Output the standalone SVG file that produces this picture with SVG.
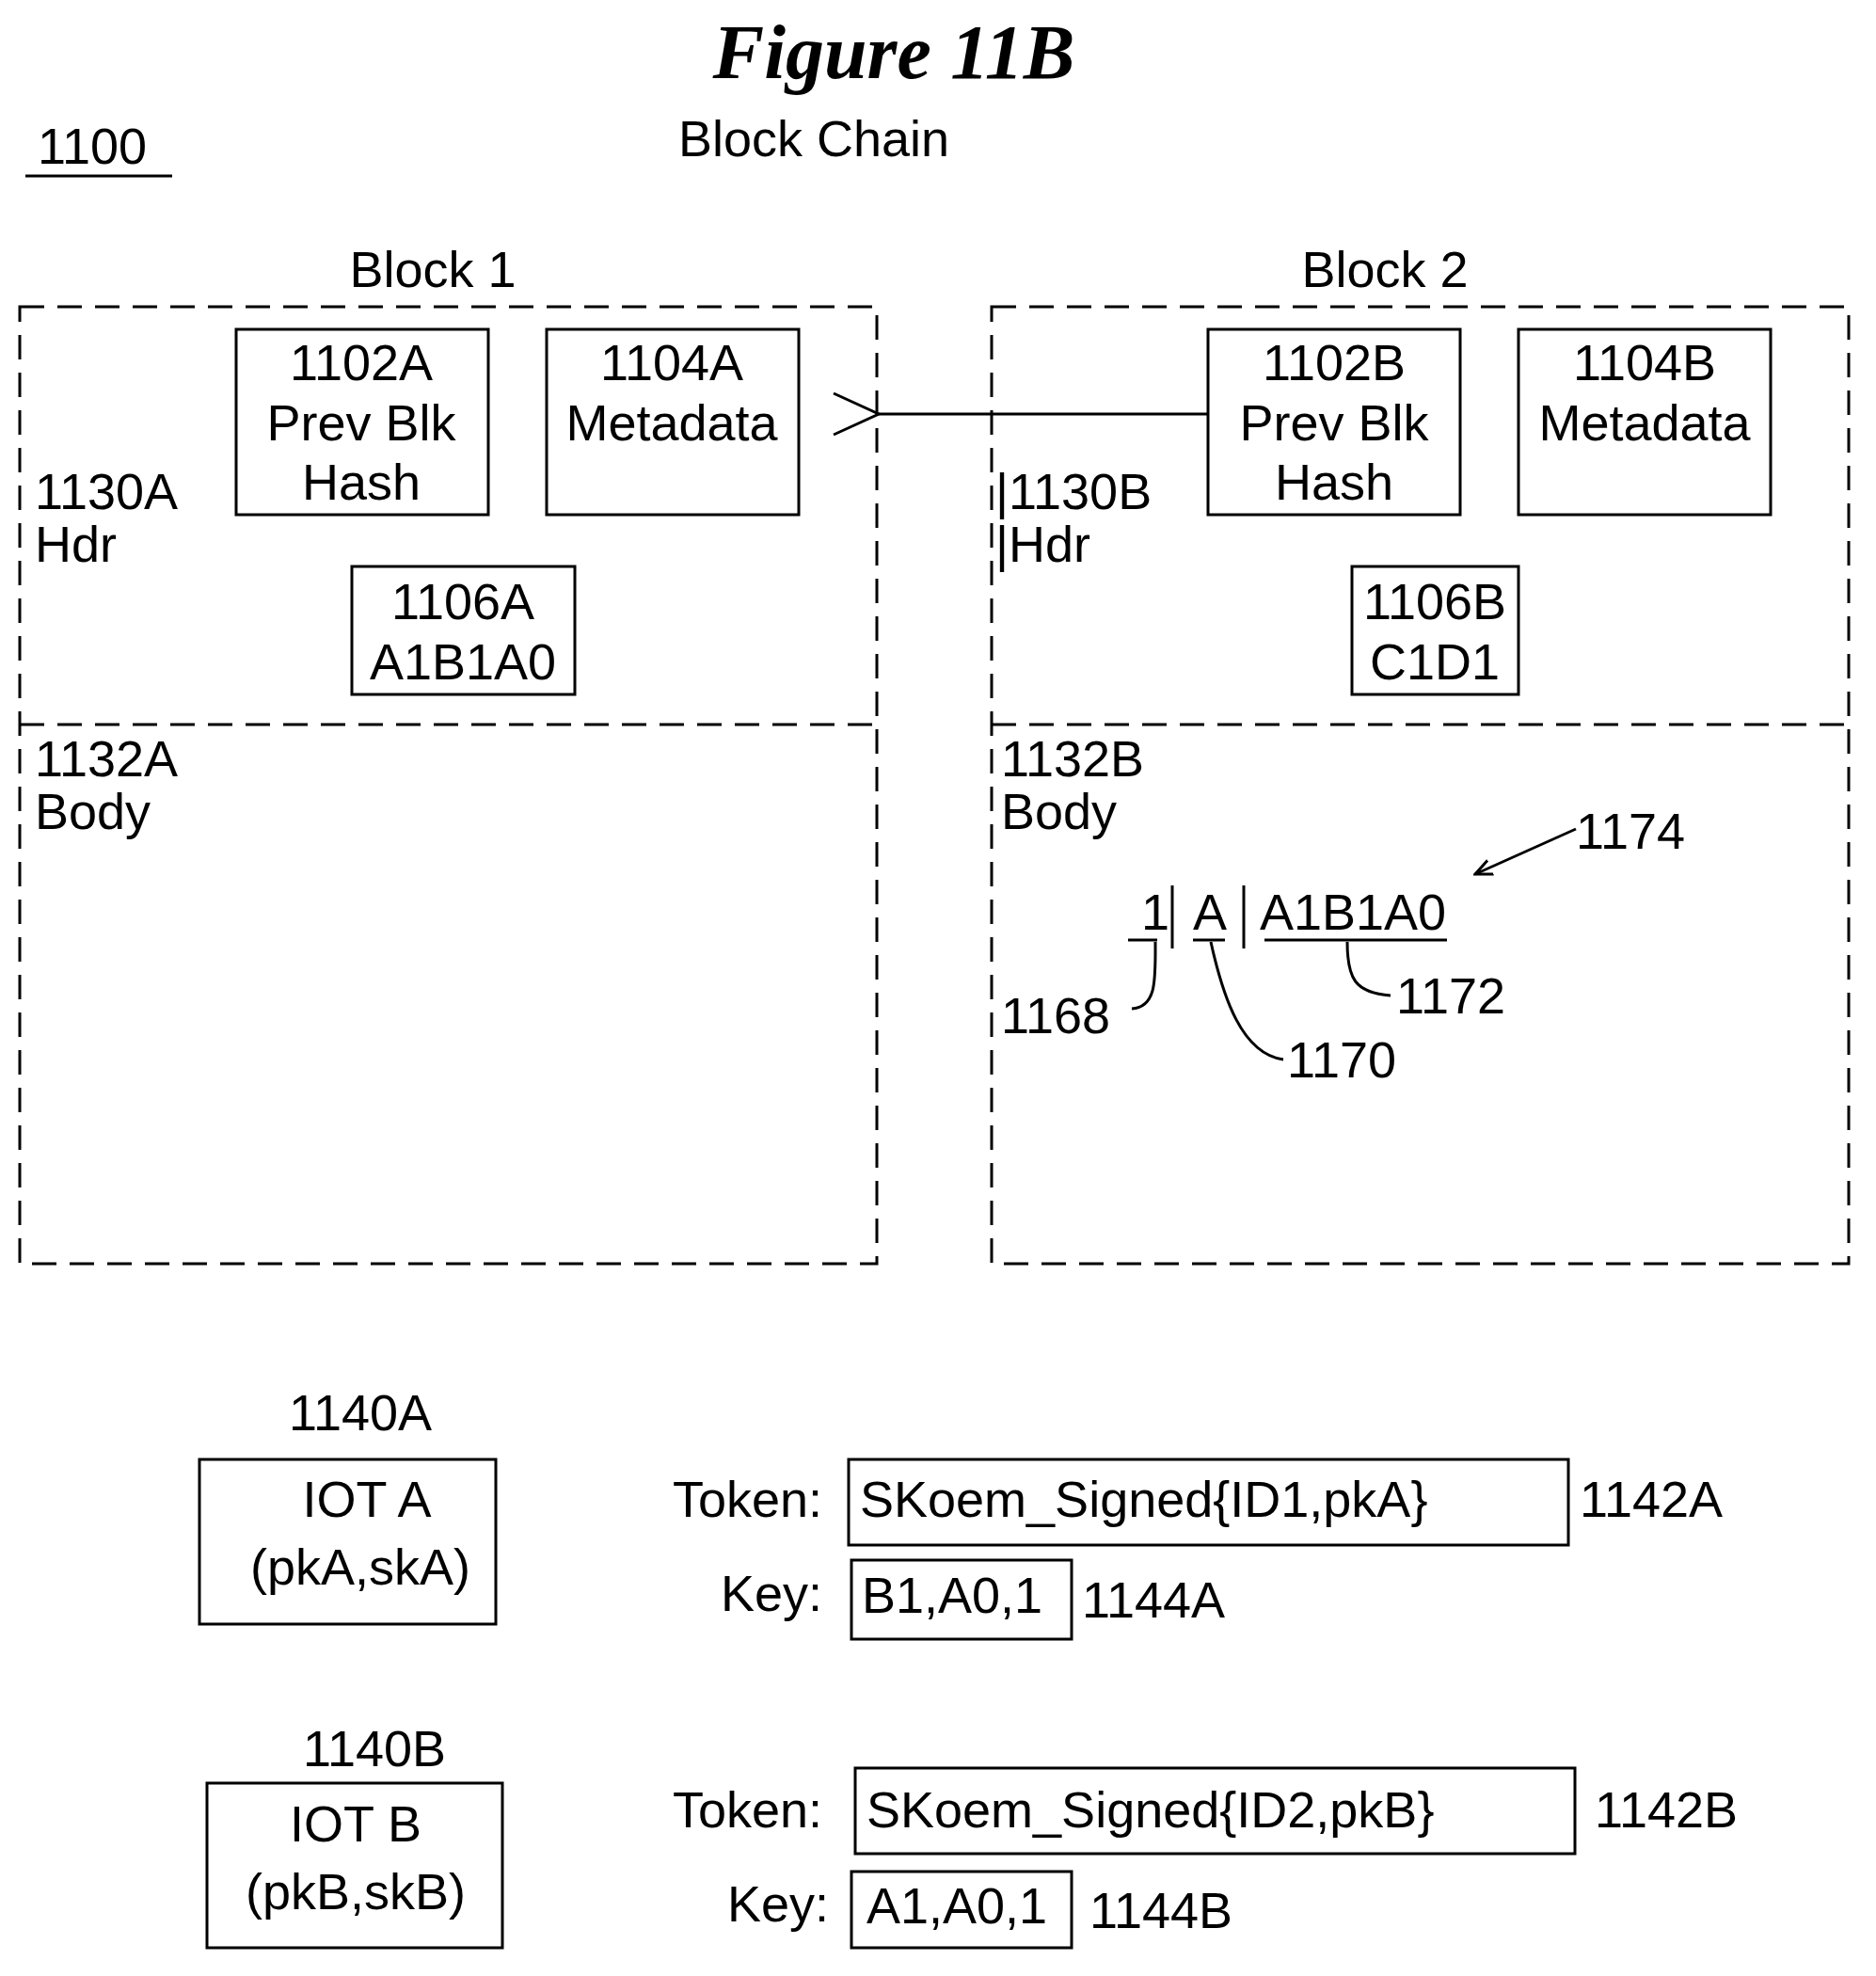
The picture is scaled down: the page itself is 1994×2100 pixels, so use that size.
<svg xmlns="http://www.w3.org/2000/svg" width="1994" height="2100" viewBox="0 0 1994 2100">
<style>
text{font-family:"Liberation Sans",Arial,sans-serif;font-size:54px;fill:#000}
.c{text-anchor:middle}.e{text-anchor:end}
.box{fill:none;stroke:#000;stroke-width:3}
.dash{fill:none;stroke:#000;stroke-width:3;stroke-dasharray:26 14}
.ln{fill:none;stroke:#000;stroke-width:3}
</style>
<defs><marker id="ar" markerWidth="20" markerHeight="20" refX="18" refY="10" orient="auto" markerUnits="userSpaceOnUse"><path d="M0,2 L18,10 L0,18" fill="none" stroke="#000" stroke-width="3"/></marker>
<marker id="op" markerWidth="60" markerHeight="60" refX="2" refY="30" orient="auto" markerUnits="userSpaceOnUse"><path d="M50,8 L2,30 L50,52" fill="none" stroke="#000" stroke-width="3"/></marker></defs>
<text x="950" y="83" class="c" style="font-family:'Liberation Serif',serif;font-style:italic;font-weight:bold;font-size:82px">Figure  11B</text>
<text x="865" y="166" class="c">Block  Chain</text>
<text x="40" y="174">1100</text><line x1="27" y1="187" x2="183" y2="187" class="ln"/>
<g id="block1">
<text x="460" y="305" class="c">Block  1</text>
<rect x="21" y="326" width="911" height="1017" class="dash"/>
<line x1="21" y1="770" x2="932" y2="770" class="dash"/>
<text x="37" y="541">1130A</text><text x="37" y="597">Hdr</text>
<text x="37" y="825">1132A</text><text x="37" y="881">Body</text>
</g>
<g id="n1102A"><rect x="251" y="350" width="268" height="197" class="box"/><text x="384" y="404" class="c">1102A</text><text x="384" y="468" class="c">Prev  Blk</text><text x="384" y="531" class="c">Hash</text></g>
<g id="n1104A"><rect x="581" y="350" width="268" height="197" class="box"/><text x="714" y="404" class="c">1104A</text><text x="714" y="468" class="c">Metadata</text></g>
<g id="n1106A"><rect x="374" y="602" width="237" height="136" class="box"/><text x="492" y="658" class="c">1106A</text><text x="492" y="722" class="c">A1B1A0</text></g>
<g id="block2">
<text x="1472" y="305" class="c">Block  2</text>
<rect x="1054" y="326" width="911" height="1017" class="dash"/>
<line x1="1054" y1="770" x2="1965" y2="770" class="dash"/>
<text x="1058" y="541">|1130B</text><text x="1058" y="597">|Hdr</text>
<text x="1064" y="825">1132B</text><text x="1064" y="881">Body</text>
</g>
<g id="n1102B"><rect x="1284" y="350" width="268" height="197" class="box"/><text x="1418" y="404" class="c">1102B</text><text x="1418" y="468" class="c">Prev  Blk</text><text x="1418" y="531" class="c">Hash</text></g>
<g id="n1104B"><rect x="1614" y="350" width="268" height="197" class="box"/><text x="1748" y="404" class="c">1104B</text><text x="1748" y="468" class="c">Metadata</text></g>
<g id="n1106B"><rect x="1437" y="602" width="177" height="136" class="box"/><text x="1525" y="658" class="c">1106B</text><text x="1525" y="722" class="c">C1D1</text></g>
<g id="record">
<text x="1213" y="988">1</text><line x1="1246" y1="941" x2="1246" y2="1008" class="ln"/>
<text x="1268" y="988">A</text><line x1="1322" y1="941" x2="1322" y2="1008" class="ln"/>
<text x="1339" y="988">A1B1A0</text>
<line x1="1199" y1="999" x2="1230" y2="999" class="ln"/><line x1="1268" y1="999" x2="1302" y2="999" class="ln"/><line x1="1344" y1="999" x2="1538" y2="999" class="ln"/>
<text x="1675" y="902">1174</text><text x="1484" y="1077">1172</text><text x="1368" y="1145">1170</text><text x="1064" y="1098">1168</text>
</g>
<g id="connectors">
<line x1="1284" y1="440" x2="934" y2="440" class="ln" marker-end="url(#op)"/>
<line x1="1675" y1="881" x2="1568" y2="929" class="ln" marker-end="url(#ar)"/>
<path d="M1432,1001 C1432,1040 1440,1055 1478,1058" class="ln"/>
<path d="M1287,1001 C1300,1060 1320,1120 1364,1126" class="ln"/>
<path d="M1228,1001 C1228,1040 1230,1070 1203,1072" class="ln"/>
</g>
<g id="n1140A"><text x="383" y="1520" class="c">1140A</text><rect x="212" y="1551" width="315" height="175" class="box"/><text x="390" y="1612" class="c">IOT   A</text><text x="383" y="1684" class="c">(pkA,skA)</text></g>
<g id="n1142A"><text x="874" y="1612" class="e">Token:</text><rect x="902" y="1551" width="765" height="91" class="box"/><text x="914" y="1612">SKoem_Signed{ID1,pkA}</text><text x="1679" y="1612">1142A</text></g>
<g id="n1144A"><text x="874" y="1712" class="e">Key:</text><rect x="905" y="1658" width="234" height="84" class="box"/><text x="916" y="1714">B1,A0,1</text><text x="1150" y="1719">1144A</text></g>
<g id="n1140B"><text x="398" y="1877" class="c">1140B</text><rect x="220" y="1895" width="314" height="175" class="box"/><text x="378" y="1957" class="c">IOT   B</text><text x="378" y="2029" class="c">(pkB,skB)</text></g>
<g id="n1142B"><text x="874" y="1942" class="e">Token:</text><rect x="909" y="1879" width="765" height="91" class="box"/><text x="921" y="1942">SKoem_Signed{ID2,pkB}</text><text x="1695" y="1942">1142B</text></g>
<g id="n1144B"><text x="881" y="2042" class="e">Key:</text><rect x="905" y="1989" width="234" height="81" class="box"/><text x="921" y="2044">A1,A0,1</text><text x="1158" y="2049">1144B</text></g>
</svg>
